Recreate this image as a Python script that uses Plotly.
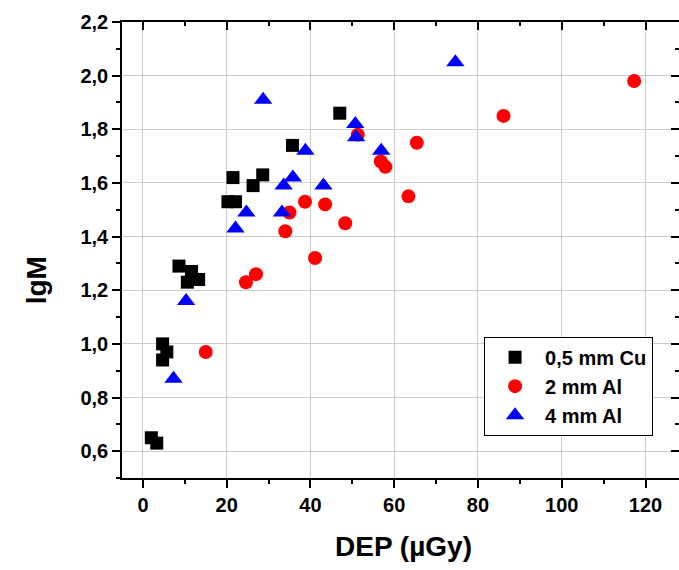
import plotly.graph_objects as go

# 0,5 mm Cu
cu_x = [2.0, 3.3, 4.7, 5.7, 4.7, 8.6, 11.6, 13.3, 10.6, 21.5, 26.3, 28.6, 20.3, 22.1, 35.7, 47.0]
cu_y = [0.65, 0.63, 1.00, 0.97, 0.94, 1.29, 1.27, 1.24, 1.23, 1.62, 1.59, 1.63, 1.53, 1.53, 1.74, 1.86]

# 2 mm Al
al2_x = [15.0, 24.6, 27.0, 34.0, 35.0, 38.7, 41.1, 43.5, 48.3, 51.3, 56.8, 57.9, 63.4, 65.4, 86.1, 117.3]
al2_y = [0.97, 1.23, 1.26, 1.42, 1.49, 1.53, 1.32, 1.52, 1.45, 1.78, 1.68, 1.66, 1.55, 1.75, 1.85, 1.98]

# 4 mm Al
al4_x = [7.3, 10.3, 22.1, 24.7, 28.7, 33.2, 33.6, 35.8, 38.8, 43.1, 50.7, 50.9, 56.9, 74.6]
al4_y = [0.87, 1.16, 1.43, 1.49, 1.91, 1.49, 1.59, 1.62, 1.72, 1.59, 1.82, 1.77, 1.72, 2.05]

x_tickvals = [0, 20, 40, 60, 80, 100, 120]
x_ticktext = ["0", "20", "40", "60", "80", "100", "120"]
y_tickvals = [0.6, 0.8, 1.0, 1.2, 1.4, 1.6, 1.8, 2.0, 2.2]
y_ticktext = ["0,6", "0,8", "1,0", "1,2", "1,4", "1,6", "1,8", "2,0", "2,2"]

x_range = [-5, 128]
y_range = [0.5, 2.2]
x_title = "DEP (µGy)"
y_title = "lgM"
names = ["0,5 mm Cu", "2 mm Al", "4 mm Al"]

FONT = "Liberation Sans, Arial, sans-serif"

fig = go.Figure()
fig.add_trace(go.Scatter(x=cu_x, y=cu_y, mode="markers", name="<b>" + names[0] + "</b>",
                         marker=dict(symbol="square", size=13, color="black", line=dict(width=0))))
fig.add_trace(go.Scatter(x=al2_x, y=al2_y, mode="markers", name="<b>" + names[1] + "</b>",
                         marker=dict(symbol="circle", size=14, color="#ff0000", line=dict(width=0))))
fig.add_trace(go.Scatter(x=al4_x, y=al4_y, mode="markers", name="<b>" + names[2] + "</b>",
                         marker=dict(symbol="triangle-up", size=16, color="#0000ff", line=dict(width=0))))
# helper trace so mirror axes are drawn
fig.add_trace(go.Scatter(x=[], y=[], xaxis="x2", yaxis="y2", showlegend=False, hoverinfo="skip"))

axis_common = dict(showline=True, linecolor="black", linewidth=1.5, zeroline=False)
tickfont = dict(size=20, family=FONT, color="black")

fig.update_layout(
    width=679, height=570,
    margin=dict(l=122, r=0, t=22, b=92, autoexpand=False),
    paper_bgcolor="white", plot_bgcolor="white",
    font=dict(family=FONT, color="black"),
    xaxis=dict(range=x_range, tickmode="array", tickvals=x_tickvals,
               ticktext=["<b>" + t + "</b>" for t in x_ticktext],
               ticks="outside", ticklen=8, tickwidth=1.5,
               tickcolor="black", showgrid=True, gridcolor="#cccccc", gridwidth=1,
               tickfont=tickfont,
               minor=dict(dtick=10, tick0=0, ticks="outside", ticklen=4, tickwidth=1.5,
                          tickcolor="black", showgrid=False),
               **axis_common),
    yaxis=dict(range=y_range, tickmode="array", tickvals=y_tickvals,
               ticktext=["<b>" + t + "</b>" for t in y_ticktext],
               ticks="outside", ticklen=8, tickwidth=1.5,
               tickcolor="black", showgrid=True, gridcolor="#cccccc", gridwidth=1,
               tickfont=tickfont,
               minor=dict(dtick=0.1, tick0=0.6, ticks="outside", ticklen=4, tickwidth=1.5,
                          tickcolor="black", showgrid=False),
               **axis_common),
    xaxis2=dict(range=x_range, overlaying="x", side="top", dtick=20, tick0=0, ticks="inside", ticklen=8,
                tickwidth=1.5, tickcolor="black", showticklabels=False, showgrid=False,
                minor=dict(dtick=10, ticks="inside", ticklen=4, tickwidth=1.5, tickcolor="black"),
                **axis_common),
    yaxis2=dict(range=y_range, overlaying="y", side="right", dtick=0.2, tick0=0.6, ticks="inside", ticklen=8,
                tickwidth=1.5, tickcolor="black", showticklabels=False, showgrid=False,
                minor=dict(dtick=0.1, ticks="inside", ticklen=4, tickwidth=1.5, tickcolor="black"),
                **axis_common),
    legend=dict(x=0.65, y=0.31, xanchor="left", yanchor="top", bgcolor="white",
                bordercolor="black", borderwidth=1,
                font=dict(size=20, family=FONT, color="black"),
                itemwidth=50, tracegroupgap=0),
    showlegend=True,
)

fig.add_annotation(text="<b>" + x_title + "</b>", xref="paper", yref="paper", x=0.506, y=-0.151,
                   xanchor="center", yanchor="middle", showarrow=False,
                   font=dict(size=28, family=FONT, color="black"))
fig.add_annotation(text="<b>" + y_title + "</b>", xref="paper", yref="paper", x=-0.154, y=0.434,
                   xanchor="center", yanchor="middle", showarrow=False, textangle=-90,
                   font=dict(size=28, family=FONT, color="black"))

fig.write_html("out.html")
